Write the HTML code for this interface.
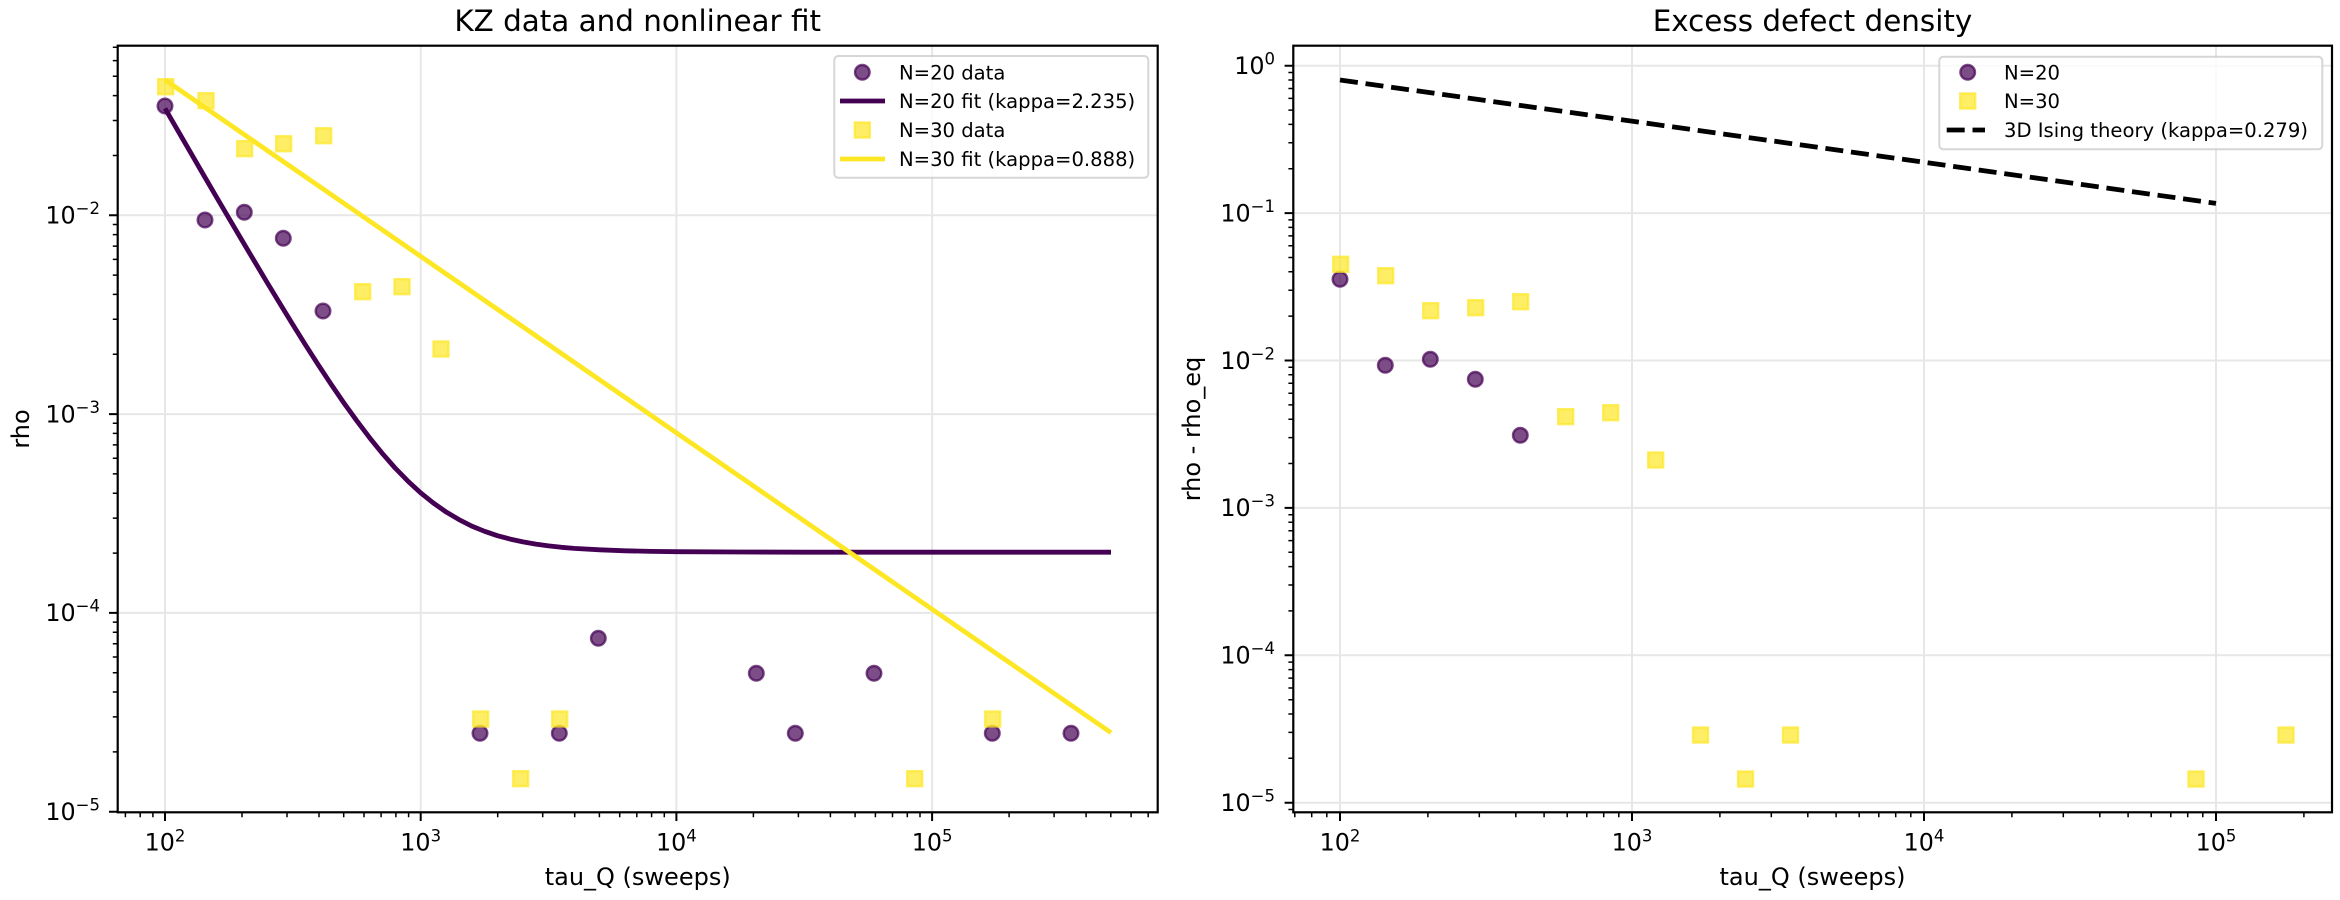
<!DOCTYPE html>
<html>
<head>
<meta charset="utf-8">
<style>
html,body{margin:0;padding:0;background:#fff;}
svg{display:block;}
text{font-family:"DejaVu Sans","Liberation Sans",sans-serif;fill:#000;}
</style>
</head>
<body>
<svg width="2340" height="900" viewBox="0 0 2340 900" xmlns="http://www.w3.org/2000/svg">
<rect x="0" y="0" width="2340" height="900" fill="#fff"/>

<!-- LEFT PANEL grid -->
<path fill="none" stroke="#b0b0b0" stroke-opacity="0.3" stroke-width="2"
 d="M165 45.7V812.3M420.7 45.7V812.3M676.4 45.7V812.3M932.1 45.7V812.3M117.7 612.9H1157.7M117.7 414.1H1157.7M117.7 215.3H1157.7"/>

<!-- N=20 data -->
<g fill="#440154" fill-opacity="0.7" stroke="#440154" stroke-opacity="0.7" stroke-width="2.4">
<circle cx="165" cy="106" r="7.3"/><circle cx="205" cy="220" r="7.3"/><circle cx="244.3" cy="212.3" r="7.3"/>
<circle cx="283.3" cy="238.3" r="7.3"/><circle cx="323" cy="311" r="7.3"/><circle cx="480" cy="733.3" r="7.3"/>
<circle cx="559.3" cy="733.3" r="7.3"/><circle cx="598.3" cy="638.3" r="7.3"/><circle cx="756.3" cy="673.3" r="7.3"/>
<circle cx="795.3" cy="733.3" r="7.3"/><circle cx="874" cy="673.3" r="7.3"/><circle cx="992.3" cy="733.3" r="7.3"/>
<circle cx="1071" cy="733.3" r="7.3"/>
</g>

<!-- N=20 fit -->
<polyline fill="none" stroke="#440154" stroke-width="4.8" stroke-linejoin="round"
 points="165,108.4 177.8,130.5 190.6,152.6 203.3,174.5 216.1,196.4 228.9,218.2 241.7,239.9 254.5,261.4 267.3,282.8 280.1,303.9 292.9,324.7 305.6,345.1 318.4,365.1 331.2,384.4 344,403.1 356.8,420.8 369.6,437.7 382.3,453.4 395.1,468 407.9,481.1 420.7,492.9 433.5,503.1 446.3,512.1 459,519.6 471.8,526.1 484.6,531.3 497.4,535.7 510.2,539.1 523,541.9 535.8,544.1 548.6,545.9 561.3,547.3 574.1,548.4 599.7,549.8 625.3,550.8 650.8,551.4 676.4,551.7 740,552 804.3,552.2 1111,552.2"/>

<!-- N=30 data -->
<g fill="#fde725" fill-opacity="0.7" stroke="#fde725" stroke-opacity="0.7" stroke-width="2.4">
<rect x="158.2" y="79.2" width="15" height="15"/><rect x="198.5" y="93.2" width="15" height="15"/>
<rect x="237.2" y="141.2" width="15" height="15"/><rect x="276.2" y="136.2" width="15" height="15"/>
<rect x="316.2" y="128.2" width="15" height="15"/><rect x="355.2" y="284.2" width="15" height="15"/>
<rect x="394.5" y="279.2" width="15" height="15"/><rect x="433.5" y="341.5" width="15" height="15"/>
<rect x="473.2" y="711.5" width="15" height="15"/><rect x="513.2" y="771.2" width="15" height="15"/>
<rect x="552.2" y="711.5" width="15" height="15"/><rect x="907.2" y="771.2" width="15" height="15"/>
<rect x="985.2" y="711.5" width="15" height="15"/>
</g>

<!-- N=30 fit -->
<line x1="165" y1="79.9" x2="1111" y2="732.7" stroke="#fde725" stroke-width="4.8"/>

<!-- legend left -->
<rect x="834.3" y="56" width="314" height="121.7" rx="4" ry="4" fill="#fff" fill-opacity="0.8" stroke="#cccccc" stroke-opacity="0.8" stroke-width="2"/>
<circle cx="862.3" cy="72.3" r="7.3" fill="#440154" fill-opacity="0.7" stroke="#440154" stroke-opacity="0.7" stroke-width="2.4"/>
<line x1="840" y1="101" x2="885" y2="101" stroke="#440154" stroke-width="4.8"/>
<rect x="854.8" y="122.5" width="15" height="15" fill="#fde725" fill-opacity="0.7" stroke="#fde725" stroke-opacity="0.7" stroke-width="2.4"/>
<line x1="840" y1="159" x2="885" y2="159" stroke="#fde725" stroke-width="4.8"/>
<g font-size="19.6">
<text x="899" y="79.4">N=20 data</text>
<text x="899" y="108.1">N=20 fit (kappa=2.235)</text>
<text x="899" y="137.1">N=30 data</text>
<text x="899" y="166.1">N=30 fit (kappa=0.888)</text>
</g>

<!-- spines left -->
<rect x="117.7" y="45.7" width="1040" height="766.6" fill="none" stroke="#000" stroke-width="2.2"/>

<!-- major ticks left -->
<path fill="none" stroke="#000" stroke-width="2"
 d="M165 812.3V821M420.7 812.3V821M676.4 812.3V821M932.1 812.3V821M109 811.7H117.7M109 612.9H117.7M109 414.1H117.7M109 215.3H117.7"/>
<!-- minor ticks left x -->
<path fill="none" stroke="#000" stroke-width="1.5"
 d="M125.4 812.3v4.9M140.2 812.3v4.9M152.9 812.3v4.9M242 812.3v4.9M287 812.3v4.9M319 812.3v4.9M343.7 812.3v4.9M364 812.3v4.9M381.1 812.3v4.9M395.9 812.3v4.9M408.6 812.3v4.9M497.7 812.3v4.9M542.7 812.3v4.9M574.7 812.3v4.9M599.4 812.3v4.9M619.7 812.3v4.9M636.8 812.3v4.9M651.6 812.3v4.9M664.3 812.3v4.9M753.4 812.3v4.9M798.4 812.3v4.9M830.4 812.3v4.9M855.1 812.3v4.9M875.4 812.3v4.9M892.5 812.3v4.9M907.3 812.3v4.9M920 812.3v4.9M1009.1 812.3v4.9M1054.1 812.3v4.9M1086.1 812.3v4.9M1110.8 812.3v4.9M1131.1 812.3v4.9M1148.2 812.3v4.9"/>
<!-- minor ticks left y -->
<path fill="none" stroke="#000" stroke-width="1.5"
 d="M112.8 751.9h4.9M112.8 716.9h4.9M112.8 692h4.9M112.8 672.7h4.9M112.8 657h4.9M112.8 643.7h4.9M112.8 632.2h4.9M112.8 622.1h4.9M112.8 553.1h4.9M112.8 518.1h4.9M112.8 493.2h4.9M112.8 473.9h4.9M112.8 458.2h4.9M112.8 444.9h4.9M112.8 433.4h4.9M112.8 423.3h4.9M112.8 354.3h4.9M112.8 319.3h4.9M112.8 294.4h4.9M112.8 275.1h4.9M112.8 259.4h4.9M112.8 246.1h4.9M112.8 234.6h4.9M112.8 224.5h4.9M112.8 155.5h4.9M112.8 120.5h4.9M112.8 95.6h4.9M112.8 76.3h4.9M112.8 60.6h4.9M112.8 47.3h4.9"/>

<!-- tick labels left -->
<g font-size="23.8">
<text x="165" y="850.7" text-anchor="middle">10<tspan font-size="16.5" dy="-9">2</tspan></text>
<text x="420.7" y="850.7" text-anchor="middle">10<tspan font-size="16.5" dy="-9">3</tspan></text>
<text x="676.4" y="850.7" text-anchor="middle">10<tspan font-size="16.5" dy="-9">4</tspan></text>
<text x="932.1" y="850.7" text-anchor="middle">10<tspan font-size="16.5" dy="-9">5</tspan></text>
<text x="100" y="820" text-anchor="end">10<tspan font-size="16.5" dy="-9.5">−5</tspan></text>
<text x="100" y="621.2" text-anchor="end">10<tspan font-size="16.5" dy="-9.5">−4</tspan></text>
<text x="100" y="422.4" text-anchor="end">10<tspan font-size="16.5" dy="-9.5">−3</tspan></text>
<text x="100" y="223.6" text-anchor="end">10<tspan font-size="16.5" dy="-9.5">−2</tspan></text>
</g>
<text x="637.7" y="885" font-size="24" text-anchor="middle">tau_Q (sweeps)</text>
<text x="0" y="0" font-size="24" text-anchor="middle" transform="translate(29,429) rotate(-90)">rho</text>
<text x="637.7" y="31" font-size="29.4" text-anchor="middle">KZ data and nonlinear fit</text>

<!-- RIGHT PANEL grid -->
<path fill="none" stroke="#b0b0b0" stroke-opacity="0.3" stroke-width="2"
 d="M1340 45.7V812.3M1632 45.7V812.3M1924 45.7V812.3M2216 45.7V812.3M1293.3 65.7H2332M1293.3 213.1H2332M1293.3 360.5H2332M1293.3 507.9H2332M1293.3 655.3H2332M1293.3 802.7H2332"/>

<g fill="#440154" fill-opacity="0.7" stroke="#440154" stroke-opacity="0.7" stroke-width="2.4">
<circle cx="1340" cy="279.3" r="7.3"/><circle cx="1385.3" cy="365.3" r="7.3"/><circle cx="1430.3" cy="359.3" r="7.3"/>
<circle cx="1475.3" cy="379.3" r="7.3"/><circle cx="1520.3" cy="435.3" r="7.3"/>
</g>
<g fill="#fde725" fill-opacity="0.7" stroke="#fde725" stroke-opacity="0.7" stroke-width="2.4">
<rect x="1333.2" y="256.8" width="15" height="15"/><rect x="1378.2" y="268.2" width="15" height="15"/>
<rect x="1423.2" y="303.2" width="15" height="15"/><rect x="1468.2" y="300.2" width="15" height="15"/>
<rect x="1513.2" y="294.2" width="15" height="15"/><rect x="1558.2" y="409.2" width="15" height="15"/>
<rect x="1603.2" y="405.2" width="15" height="15"/><rect x="1648.2" y="452.5" width="15" height="15"/>
<rect x="1693" y="727.5" width="15" height="15"/><rect x="1738" y="771.5" width="15" height="15"/>
<rect x="1783" y="727.5" width="15" height="15"/><rect x="2188.5" y="771.5" width="15" height="15"/>
<rect x="2278.5" y="727.5" width="15" height="15"/>
</g>
<line x1="1340" y1="80" x2="2216" y2="203.4" stroke="#000" stroke-width="4.8" stroke-dasharray="18 7.8"/>

<!-- legend right -->
<rect x="1939.3" y="56.7" width="383" height="92.6" rx="4" ry="4" fill="#fff" fill-opacity="0.8" stroke="#cccccc" stroke-opacity="0.8" stroke-width="2"/>
<circle cx="1967.7" cy="72.3" r="7.3" fill="#440154" fill-opacity="0.7" stroke="#440154" stroke-opacity="0.7" stroke-width="2.4"/>
<rect x="1960.2" y="93.5" width="15" height="15" fill="#fde725" fill-opacity="0.7" stroke="#fde725" stroke-opacity="0.7" stroke-width="2.4"/>
<line x1="1946.7" y1="130" x2="1985" y2="130" stroke="#000" stroke-width="4.8" stroke-dasharray="18 7.8"/>
<g font-size="19.6">
<text x="2004" y="79.4">N=20</text>
<text x="2004" y="108.1">N=30</text>
<text x="2004" y="137.1">3D Ising theory (kappa=0.279)</text>
</g>

<!-- spines right -->
<rect x="1293.3" y="45.7" width="1038.7" height="766.6" fill="none" stroke="#000" stroke-width="2.2"/>

<path fill="none" stroke="#000" stroke-width="2"
 d="M1340 812.3V821M1632 812.3V821M1924 812.3V821M2216 812.3V821M1284.6 65.7H1293.3M1284.6 213.1H1293.3M1284.6 360.5H1293.3M1284.6 507.9H1293.3M1284.6 655.3H1293.3M1284.6 802.7H1293.3"/>
<path fill="none" stroke="#000" stroke-width="1.5"
 d="M1294.8 812.3v4.9M1311.7 812.3v4.9M1326.8 812.3v4.9M1427.9 812.3v4.9M1479.3 812.3v4.9M1515.8 812.3v4.9M1544.1 812.3v4.9M1567.2 812.3v4.9M1586.8 812.3v4.9M1603.7 812.3v4.9M1618.8 812.3v4.9M1719.9 812.3v4.9M1771.3 812.3v4.9M1807.8 812.3v4.9M1836.1 812.3v4.9M1859.2 812.3v4.9M1878.8 812.3v4.9M1895.7 812.3v4.9M1910.8 812.3v4.9M2011.9 812.3v4.9M2063.3 812.3v4.9M2099.8 812.3v4.9M2128.1 812.3v4.9M2151.2 812.3v4.9M2170.8 812.3v4.9M2187.7 812.3v4.9M2202.8 812.3v4.9M2303.9 812.3v4.9"/>
<path fill="none" stroke="#000" stroke-width="1.5"
 d="M1288.4 809.5h4.9M1288.4 758.3h4.9M1288.4 732.4h4.9M1288.4 714h4.9M1288.4 699.7h4.9M1288.4 688h4.9M1288.4 678.1h4.9M1288.4 669.6h4.9M1288.4 662.1h4.9M1288.4 610.9h4.9M1288.4 585h4.9M1288.4 566.6h4.9M1288.4 552.3h4.9M1288.4 540.6h4.9M1288.4 530.7h4.9M1288.4 522.2h4.9M1288.4 514.7h4.9M1288.4 463.5h4.9M1288.4 437.6h4.9M1288.4 419.2h4.9M1288.4 404.9h4.9M1288.4 393.2h4.9M1288.4 383.3h4.9M1288.4 374.8h4.9M1288.4 367.3h4.9M1288.4 316.1h4.9M1288.4 290.2h4.9M1288.4 271.8h4.9M1288.4 257.5h4.9M1288.4 245.8h4.9M1288.4 235.9h4.9M1288.4 227.4h4.9M1288.4 219.9h4.9M1288.4 168.7h4.9M1288.4 142.8h4.9M1288.4 124.4h4.9M1288.4 110.1h4.9M1288.4 98.4h4.9M1288.4 88.5h4.9M1288.4 80h4.9M1288.4 72.5h4.9"/>

<g font-size="23.8">
<text x="1340" y="850.7" text-anchor="middle">10<tspan font-size="16.5" dy="-9">2</tspan></text>
<text x="1632" y="850.7" text-anchor="middle">10<tspan font-size="16.5" dy="-9">3</tspan></text>
<text x="1924" y="850.7" text-anchor="middle">10<tspan font-size="16.5" dy="-9">4</tspan></text>
<text x="2216" y="850.7" text-anchor="middle">10<tspan font-size="16.5" dy="-9">5</tspan></text>
<text x="1275" y="74" text-anchor="end">10<tspan font-size="16.5" dy="-9.5">0</tspan></text>
<text x="1275" y="221.4" text-anchor="end">10<tspan font-size="16.5" dy="-9.5">−1</tspan></text>
<text x="1275" y="368.8" text-anchor="end">10<tspan font-size="16.5" dy="-9.5">−2</tspan></text>
<text x="1275" y="516.2" text-anchor="end">10<tspan font-size="16.5" dy="-9.5">−3</tspan></text>
<text x="1275" y="663.6" text-anchor="end">10<tspan font-size="16.5" dy="-9.5">−4</tspan></text>
<text x="1275" y="811" text-anchor="end">10<tspan font-size="16.5" dy="-9.5">−5</tspan></text>
</g>
<text x="1812.5" y="885" font-size="24" text-anchor="middle">tau_Q (sweeps)</text>
<text x="0" y="0" font-size="24" text-anchor="middle" transform="translate(1200,429) rotate(-90)">rho - rho_eq</text>
<text x="1812.5" y="31" font-size="29.4" text-anchor="middle">Excess defect density</text>
</svg>
</body>
</html>
